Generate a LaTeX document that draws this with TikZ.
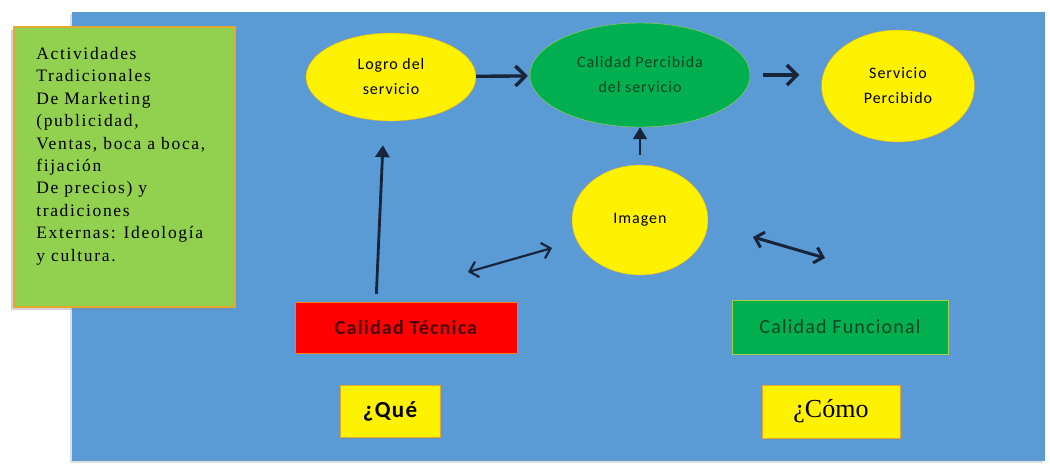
\documentclass[tikz,border=0pt]{standalone}
\usepackage{fontspec}
\setmainfont{Liberation Serif}
\newfontfamily\calibri[LetterSpace=6]{Carlito}
\newfontfamily\serifesp[LetterSpace=9.5]{Liberation Serif}
\usetikzlibrary{shapes, arrows.meta, positioning, shadows}
\definecolor{fondo}{HTML}{5B9BD5}
\definecolor{verdeclaro}{HTML}{92D050}
\definecolor{verde}{HTML}{00B050}
\definecolor{borde}{HTML}{E0A82E}
\definecolor{bordeverde}{HTML}{A8CF4A}
\definecolor{flecha}{HTML}{17243A}
\definecolor{rojooscuro}{HTML}{4A0000}
\definecolor{verdeoscuro}{HTML}{0A4520}
\tikzset{
    marco/.style={rectangle, draw=borde, line width=1.8pt, fill=verdeclaro, minimum width=221pt, minimum height=280pt, drop shadow={shadow xshift=-3pt, shadow yshift=-3pt, opacity=.35}},
    lista/.style={align=left, inner sep=0pt, font=\serifesp\fontsize{17.5}{22.4}\selectfont},
    elipse/.style={ellipse, draw=borde, thin, fill=yellow, align=center, inner sep=0pt, font=\calibri\fontsize{16}{25}\selectfont},
    caja/.style={rectangle, draw=borde, thin, align=center, inner sep=0pt},
    pregunta/.style={caja, fill=yellow, drop shadow={shadow xshift=1pt, shadow yshift=-1.5pt, opacity=.3}},
    arrow/.style={line width=3.4pt, flecha, -{Straight Barb[length=10pt, width=20pt]}},
    flechaup/.style={flecha, -{Triangle[length=12pt, width=14pt]}},
    doble/.style={line width=2.2pt, flecha, {Straight Barb[length=8pt, width=16pt]}-{Straight Barb[length=8pt, width=16pt]}}
}

\begin{document}
\begin{tikzpicture}[x=1pt, y=-1pt]
    \useasboundingbox (0,0) rectangle (1050,469);
    % fondo azul
    \fill[fondo, drop shadow={shadow xshift=-2pt, shadow yshift=-2pt, opacity=.25}] (72,12) rectangle (1045,461);

    % recuadro de la izquierda
    \node[marco] (marco) at (124.5,167) {};
    \node[lista, anchor=north west] (actividades) at ([xshift=23pt, yshift=-21pt]marco.north west)
        {Actividades\\ Tradicionales\\ De Marketing\\ (publicidad,\\ Ventas, boca a boca,\\ fijación\\ De precios) y\\ tradiciones\\ Externas: Ideología\\ y cultura.};

    % elipses
    \node[elipse, minimum width=170pt, minimum height=88pt] (logro) at (391,77) {Logro del\\servicio};
    \node[elipse, fill=verde, draw=bordeverde, text=verdeoscuro, minimum width=220pt, minimum height=104pt] (percibida) at (640,75) {Calidad Percibida\\del servicio};
    \node[elipse, minimum width=153pt, minimum height=112pt] (servicio) at (898,86) {Servicio\\Percibido};
    \node[elipse, minimum width=136pt, minimum height=110pt] (imagen) at (640,220) {Imagen};

    % cajas
    \node[caja, fill=red, draw=orange, minimum width=222pt, minimum height=51pt, text=rojooscuro, font=\calibri\bfseries\fontsize{20}{22}\selectfont] (tecnica) at (406,327.5) {Calidad Técnica};
    \node[caja, fill=verde, draw=bordeverde, minimum width=216pt, minimum height=54pt, text=verdeoscuro, font=\calibri\fontsize{20}{22}\selectfont] (funcional) at (840,327) {Calidad Funcional};
    \node[pregunta, minimum width=100pt, minimum height=52pt, font=\calibri\bfseries\fontsize{23}{25}\selectfont] (que) at (390,411) {¿Qué};
    \node[pregunta, minimum width=138pt, minimum height=53pt, font=\fontsize{26}{28}\selectfont] (como) at (831,411.5) {¿Cómo};

    \coordinate (d1) at (468,272);
    \coordinate (d2) at (552,248);
    \coordinate (d3) at (753,237);
    \coordinate (d4) at (825,258);

    % flechas
    \draw[arrow, shorten >=2pt] (logro) -- (percibida);
    \draw[arrow, shorten <=13pt, shorten >=22pt] (percibida.east) -- (percibida.east -| servicio.west);
    \draw[flechaup, line width=2pt, shorten <=10pt] (imagen) -- (percibida);
    \draw[flechaup, line width=2.8pt, shorten <=8pt, shorten >=24pt] ([xshift=-30pt]tecnica.north) -- ([xshift=-7pt]logro.south);
    \draw[doble] (d1) -- (d2);
    \draw[doble, line width=3pt] (d3) -- (d4);
\end{tikzpicture}
\end{document}
